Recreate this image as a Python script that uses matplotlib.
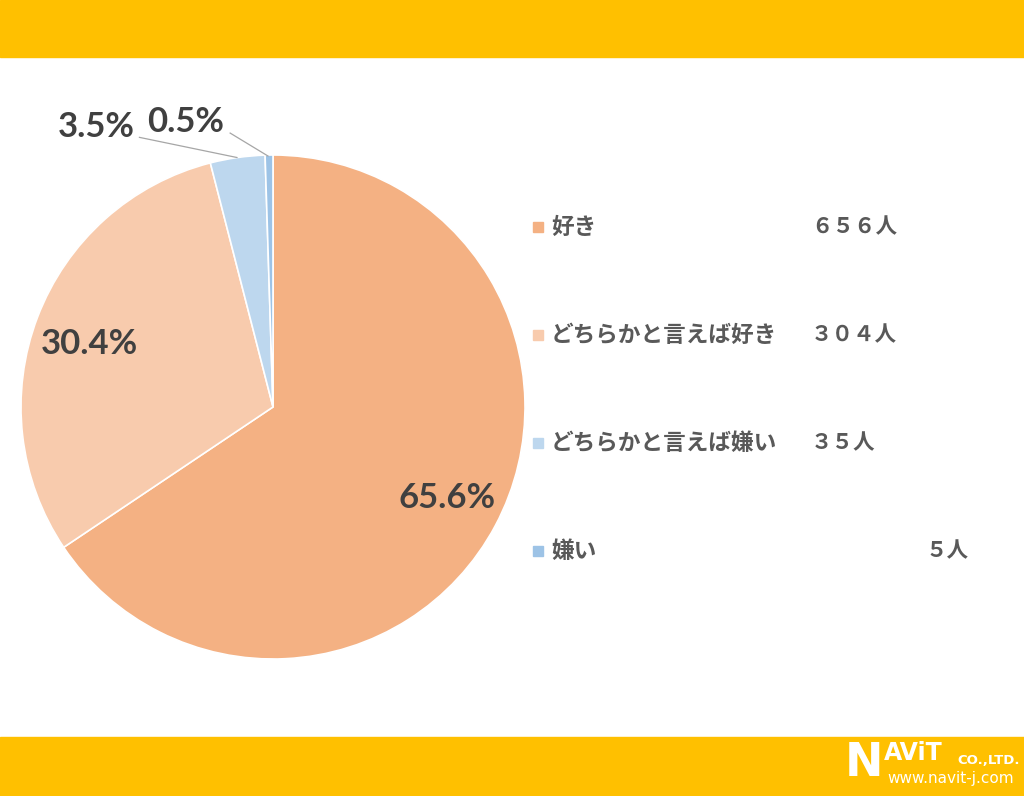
import matplotlib.pyplot as plt
from matplotlib.patches import Rectangle

plt.rcParams['font.family'] = ['Noto Sans CJK JP', 'DejaVu Sans']

# data
labels = ['好き', 'どちらかと言えば好き', 'どちらかと言えば嫌い', '嫌い']
counts = [656, 304, 35, 5]
count_text = ['６５６人', '３０４人', '３５人', '５人']
pct_text = ['65.6%', '30.4%', '3.5%', '0.5%']
colors = ['#F4B183', '#F8CBAD', '#BDD7EE', '#9DC3E6']

W, H = 1024, 796
fig = plt.figure(figsize=(W / 100, H / 100), dpi=100)
fig.patch.set_facecolor('white')

def fx(px):
    return px / W

def fy(py):
    return 1 - py / H

# yellow bands top and bottom
fig.add_artist(Rectangle((0, fy(57)), 1, 57 / H, transform=fig.transFigure,
                         color='#FFC000', zorder=0))
fig.add_artist(Rectangle((0, 0), 1, 59 / H, transform=fig.transFigure,
                         color='#FFC000', zorder=0))

# pie
cx, cy, r = 273, 407, 252
ax = fig.add_axes([fx(cx - r), fy(cy + r), 2 * r / W, 2 * r / H])
ax.pie(counts, colors=colors, startangle=90, counterclock=False, radius=1,
       wedgeprops=dict(edgecolor='white', linewidth=1.2))
ax.set_xlim(-1, 1)
ax.set_ylim(-1, 1)
ax.set_aspect('equal')
ax.axis('off')

# percentage labels
pct_pos = [(0.69, -0.36), (-0.73, 0.25), (-0.70, 1.11), (-0.345, 1.13)]
for t, (x, y) in zip(pct_text, pct_pos):
    ax.text(x, y, t, ha='center', va='center', fontsize=25, fontweight='bold',
            family=['Lato', 'DejaVu Sans'], color='#404040', clip_on=False)

# leader lines
ax.plot([-0.53, -0.143], [1.07, 0.99], color='#A6A6A6', lw=0.9, clip_on=False)
ax.plot([-0.17, -0.02], [1.087, 0.996], color='#A6A6A6', lw=0.9, clip_on=False)

# legend
rows = [227, 335, 443, 551]
count_x = [811, 811, 811, 925]
for lab, ct, c, y, x2 in zip(labels, count_text, colors, rows, count_x):
    fig.add_artist(Rectangle((fx(533), fy(y + 5)), 10 / W, 10 / H,
                             transform=fig.transFigure, color=c))
    fig.text(fx(551), fy(y), lab, ha='left', va='center', fontsize=16.3,
             fontweight='bold', color='#595959')
    fig.text(fx(x2), fy(y), ct, ha='left', va='center', fontsize=15.5,
             fontweight='bold', color='#595959')

# logo
fig.text(fx(845), fy(764), 'N', ha='left', va='center', fontsize=33,
         fontweight='heavy', color='white', family=['DejaVu Sans'])
fig.text(fx(884), fy(753), 'AViT', ha='left', va='center', fontsize=17,
         fontweight='heavy', color='white', family=['DejaVu Sans'])
fig.text(fx(957), fy(760), 'CO.,LTD.', ha='left', va='center', fontsize=9.5,
         fontweight='bold', color='white', family=['DejaVu Sans'])
fig.text(fx(887), fy(779), 'www.navit-j.com', ha='left', va='center', fontsize=11,
         color='white', family=['DejaVu Sans'])

fig.savefig('out.png', dpi=100)
